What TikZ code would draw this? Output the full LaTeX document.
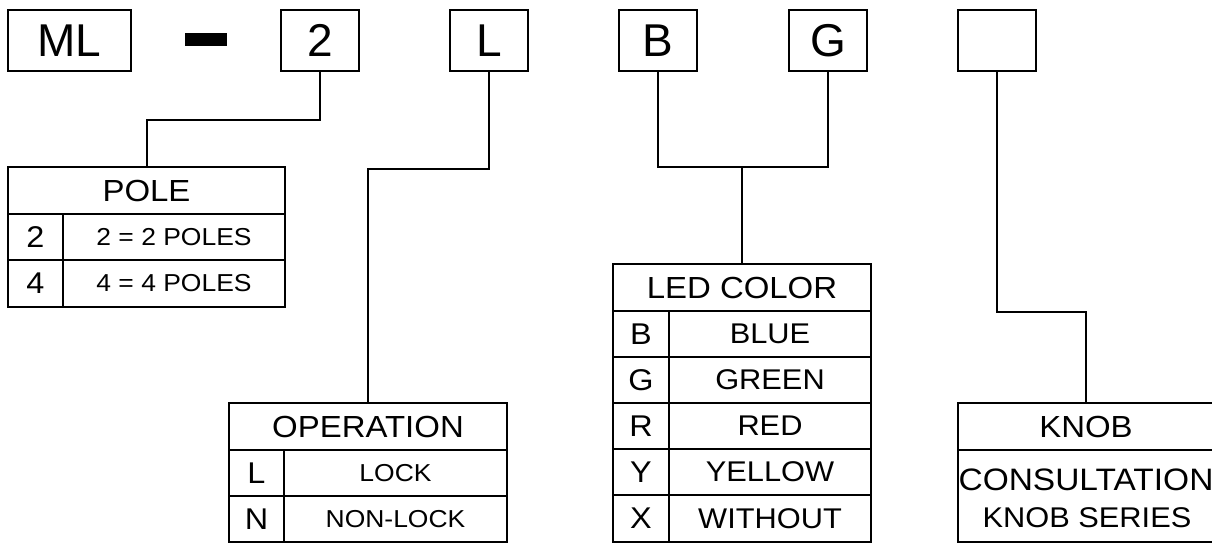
\documentclass[tikz,border=0pt]{standalone}
\usepackage{fontspec}
\setmainfont{Liberation Sans}
\newfontfamily\tabfont[FakeStretch=1.08]{Liberation Sans}
\begin{document}
\begin{tikzpicture}[x=1pt,y=-1pt, line width=2pt,
  topbox/.style={draw, minimum width=78pt, minimum height=61pt, inner sep=0pt, font=\fontsize{46}{50}\selectfont},
  cell/.style={draw, inner sep=0pt},
  headfont/.style={font=\tabfont\fontsize{30.5}{34}\selectfont},
  keyfont/.style={font=\tabfont\fontsize{30}{34}\selectfont},
  rowfont/.style={font=\tabfont\fontsize{28.5}{32}\selectfont},
  sfont/.style={font=\tabfont\fontsize{24.5}{28}\selectfont},
  conn/.style={line width=2pt}]
\useasboundingbox (0,0) rectangle (1212,543);
\clip (0,0) rectangle (1212,543);
% top code boxes
\node[topbox, minimum width=123pt] (ml) at (69.5,40.5) {ML};
\node[fill=black, minimum width=42pt, minimum height=13pt, inner sep=0pt] (dash) at (206,39.5) {};
\node[topbox] (two) at (320,40.5) {2};
\node[topbox] (ell) at (489,40.5) {L};
\node[topbox] (bee) at (658,40.5) {B};
\node[topbox] (gee) at (828,40.5) {G};
\node[topbox] (emp) at (997,40.5) {};
% POLE table
\node[cell, headfont, minimum width=277pt, minimum height=47pt] (pole) at (146.5,190.5) {POLE};
\node[cell, keyfont, minimum width=55pt, minimum height=46pt] (pk1) at (35.5,237) {2};
\node[cell, sfont, minimum width=222pt, minimum height=46pt] (pv1) at (174,237) {2 = 2 POLES};
\node[cell, keyfont, minimum width=55pt, minimum height=47pt] (pk2) at (35.5,283.5) {4};
\node[cell, sfont, minimum width=222pt, minimum height=47pt] (pv2) at (174,283.5) {4 = 4 POLES};
% OPERATION table
\node[cell, headfont, minimum width=278pt, minimum height=47pt] (op) at (368,426.5) {OPERATION};
\node[cell, keyfont, minimum width=55pt, minimum height=46pt] (ok1) at (256.5,473) {L};
\node[cell, sfont, minimum width=223pt, minimum height=46pt] (ov1) at (395.5,473) {LOCK};
\node[cell, keyfont, minimum width=55pt, minimum height=46pt] (ok2) at (256.5,519) {N};
\node[cell, sfont, minimum width=223pt, minimum height=46pt] (ov2) at (395.5,519) {NON-LOCK};
% LED COLOR table
\node[cell, headfont, minimum width=258pt, minimum height=47pt] (led) at (742,287.5) {LED COLOR};
\node[cell, keyfont, minimum width=56pt, minimum height=46pt] (lk1) at (641,334) {B};
\node[cell, rowfont, minimum width=202pt, minimum height=46pt] (lv1) at (770,334) {BLUE};
\node[cell, keyfont, minimum width=56pt, minimum height=46pt] (lk2) at (641,380) {G};
\node[cell, rowfont, minimum width=202pt, minimum height=46pt] (lv2) at (770,380) {GREEN};
\node[cell, keyfont, minimum width=56pt, minimum height=46pt] (lk3) at (641,426) {R};
\node[cell, rowfont, minimum width=202pt, minimum height=46pt] (lv3) at (770,426) {RED};
\node[cell, keyfont, minimum width=56pt, minimum height=46pt] (lk4) at (641,472) {Y};
\node[cell, rowfont, minimum width=202pt, minimum height=46pt] (lv4) at (770,472) {YELLOW};
\node[cell, keyfont, minimum width=56pt, minimum height=47pt] (lk5) at (641,518.5) {X};
\node[cell, rowfont, minimum width=202pt, minimum height=47pt] (lv5) at (770,518.5) {WITHOUT};
% KNOB table
\node[cell, headfont, minimum width=256pt, minimum height=47pt] (knob) at (1086,426.5) {KNOB};
\node[cell, minimum width=256pt, minimum height=92pt] (kb) at (1086,496) {};
\node[anchor=base, inner sep=0pt, font=\tabfont\fontsize{31}{37}\selectfont] (kb1) at (1086,490) {CONSULTATION};
\node[anchor=base, inner sep=0pt, font=\tabfont\fontsize{28.5}{37}\selectfont] (kb2) at (1087,527) {KNOB SERIES};
% connectors
\draw[conn] (two.south) -- ++(0,48) -| (pole.north);
\draw[conn] (ell.south) -- ++(0,97) -| (op.north);
\coordinate (j) at (led.north |- 0,167);
\draw[conn] (bee.south) |- (j) -| (gee.south);
\draw[conn] (j) -- (led.north);
\draw[conn] (emp.south) -- ++(0,240) -| (knob.north);
\end{tikzpicture}
\end{document}
